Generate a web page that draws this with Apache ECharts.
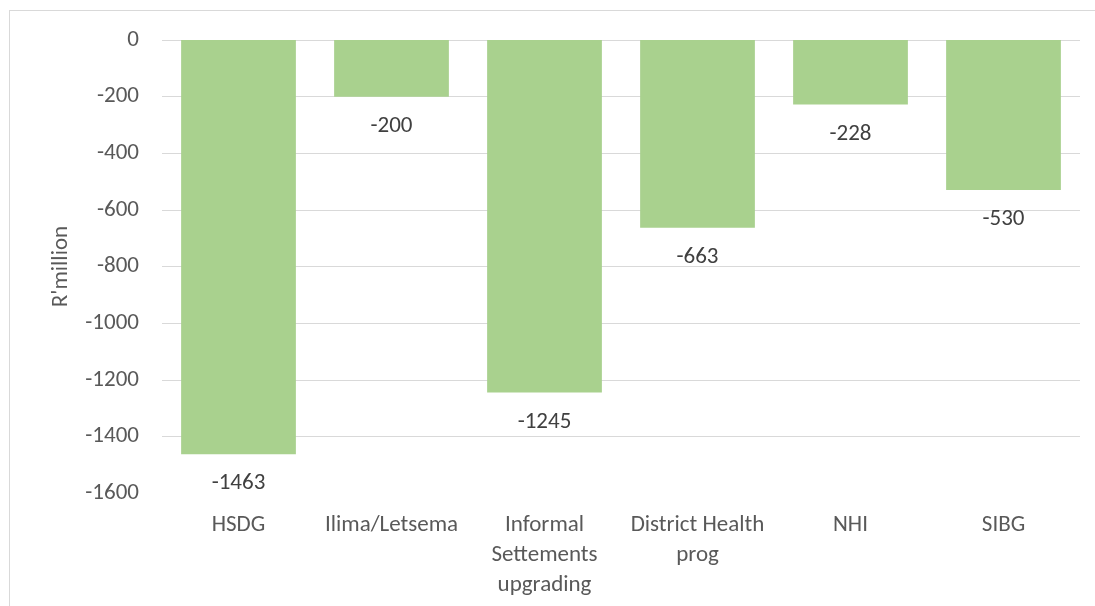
<!DOCTYPE html>
<html>
<head>
<meta charset="utf-8">
<script src="https://cdn.jsdelivr.net/npm/echarts@6/dist/echarts.min.js"></script>
<style>
html,body{margin:0;padding:0;background:#fff;overflow:hidden;}
#frame{position:absolute;left:9px;top:10px;width:1200px;height:700px;border:1px solid #d9d9d9;box-sizing:border-box;}
#chart{position:absolute;left:0;top:0;width:1095px;height:606px;}
</style>
</head>
<body>
<div id="frame"></div>
<div id="chart"></div>
<script>
const categories = ['HSDG', 'Ilima/Letsema', 'Informal\nSettements\nupgrading', 'District Health\nprog', 'NHI', 'SIBG'];
const values = [-1463, -200, -1245, -663, -228, -530];
const yTicks = [-1600, -1400, -1200, -1000, -800, -600, -400, -200, 0];

const FONT = 'Carlito, Lato, sans-serif';
const FS = 23;
const chart = echarts.init(document.getElementById('chart'));
chart.setOption({
  animation: false,
  grid: { left: 162, right: 15, top: 40, bottom: 113 },
  xAxis: {
    type: 'category',
    data: categories,
    position: 'bottom',
    axisLine: { show: false },
    axisTick: { show: false },
    axisLabel: { color: '#595959', fontFamily: FONT, fontSize: FS, lineHeight: 30, margin: 17, interval: 0 }
  },
  yAxis: {
    type: 'value',
    min: yTicks[0],
    max: yTicks[yTicks.length - 1],
    interval: 200,
    name: "R'million",
    nameLocation: 'middle',
    nameGap: 89,
    nameRotate: 90,
    nameTextStyle: { color: '#595959', fontFamily: FONT, fontSize: FS },
    axisLine: { show: false },
    axisTick: { show: false },
    axisLabel: { color: '#595959', fontFamily: FONT, fontSize: FS, margin: 23, formatter: v => String(v) },
    splitLine: { show: true, lineStyle: { color: ['rgba(0,0,0,0)', '#d9d9d9', '#d9d9d9', '#d9d9d9', '#d9d9d9', '#d9d9d9', '#d9d9d9', '#d9d9d9', '#d9d9d9'], width: 1 } }
  },
  series: [{
    type: 'bar',
    data: values,
    barCategoryGap: '25%',
    itemStyle: { color: '#a9d18e' },
    label: { show: true, position: 'bottom', distance: 18, color: '#404040', fontFamily: FONT, fontSize: FS }
  }]
});
</script>
</body>
</html>
